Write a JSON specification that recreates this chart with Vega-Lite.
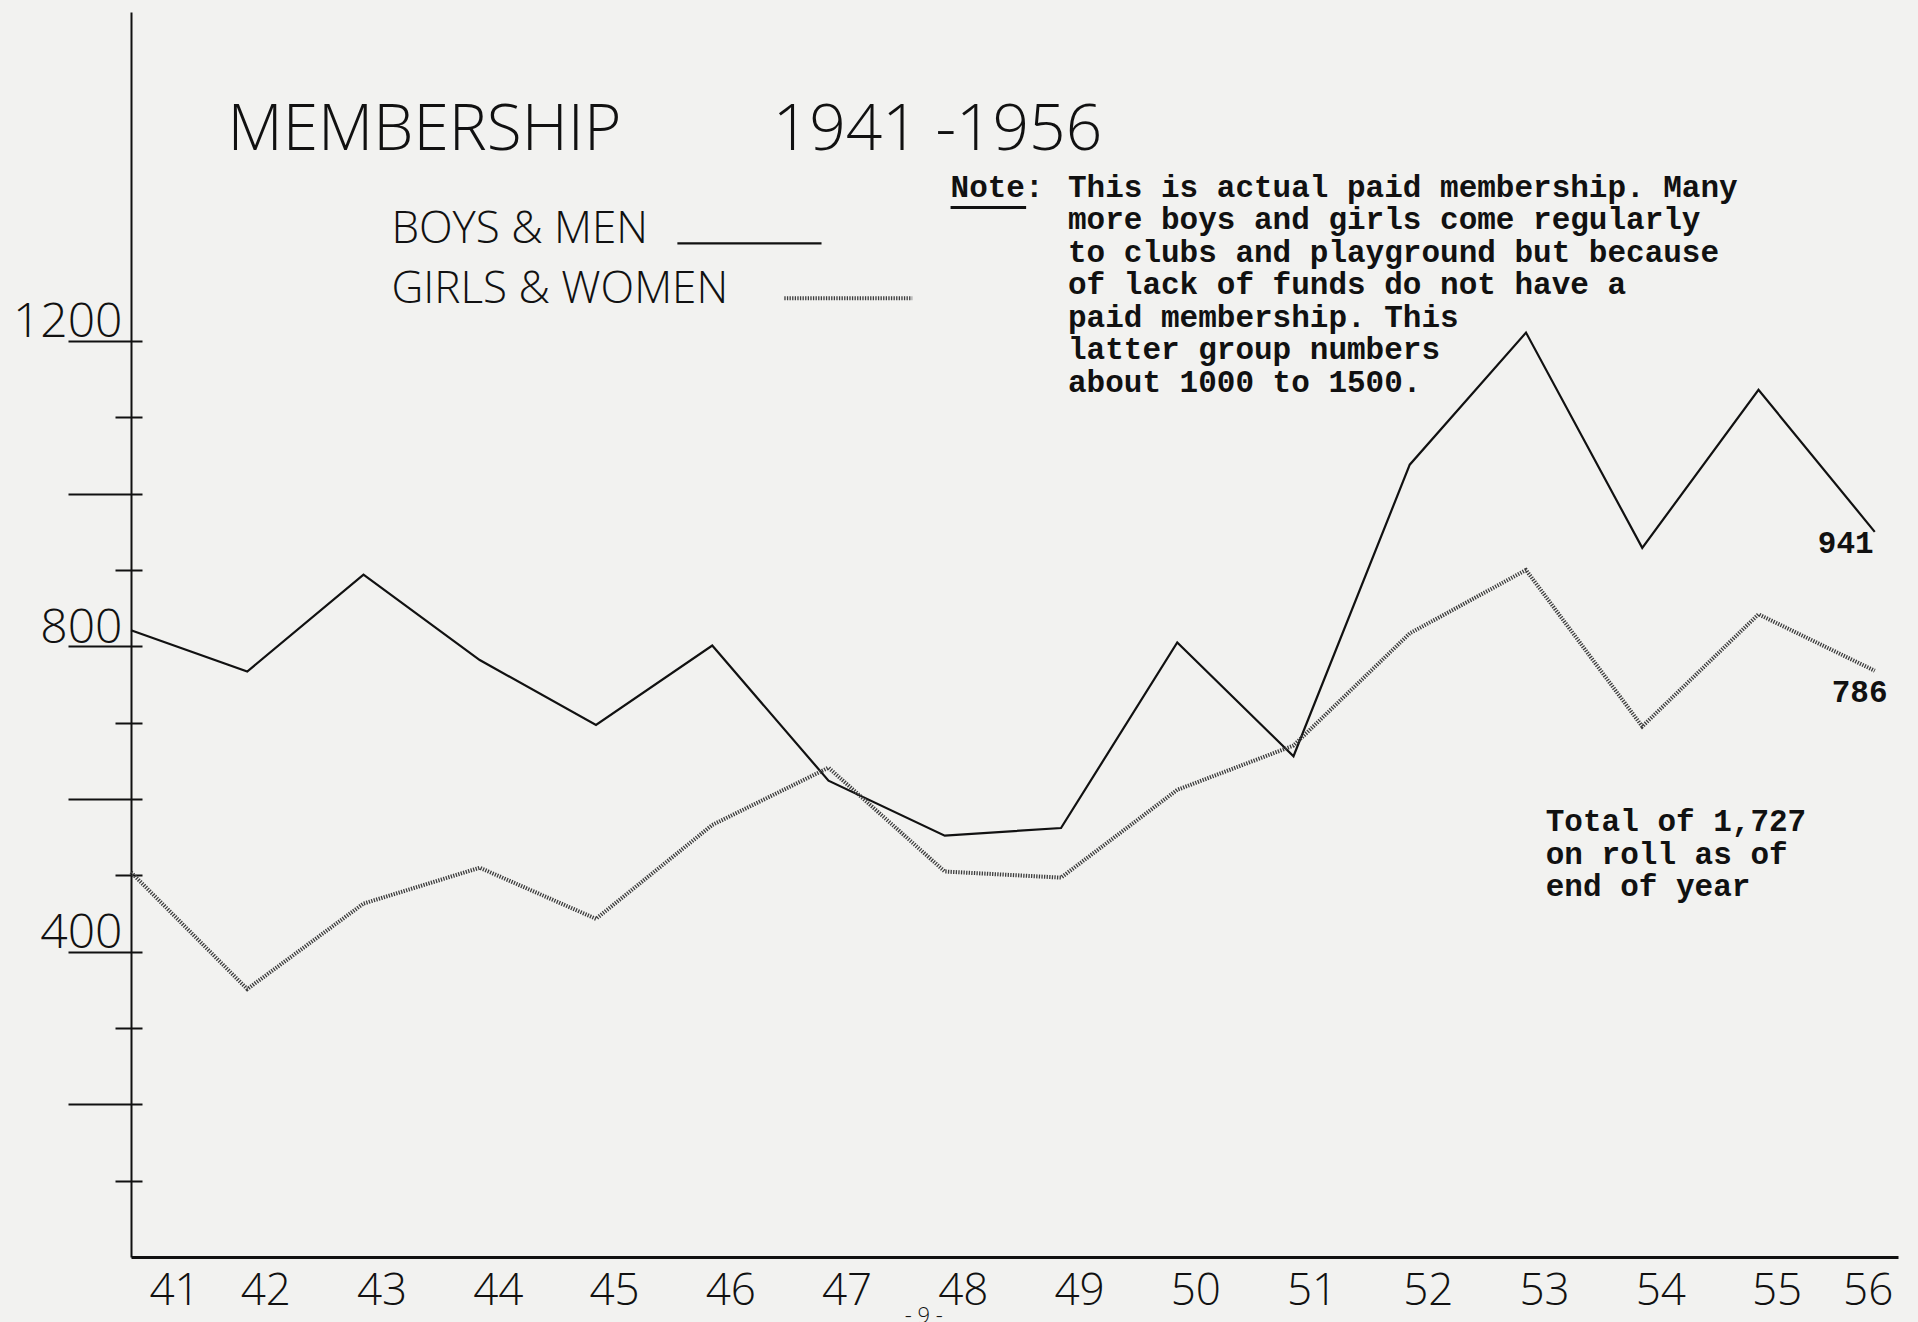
{
  "$schema": "https://vega.github.io/schema/vega-lite/v6.json",
  "width": 1767,
  "height": 1245,
  "autosize": "none",
  "padding": {"left": 131, "top": 12, "right": 20, "bottom": 65},
  "background": "#f2f2f0",
  "config": {"view": {"stroke": null}},
  "datasets": {
    "membership": [
      {"year": 1941, "group": "Boys & Men", "members": 821},
      {"year": 1942, "group": "Boys & Men", "members": 767},
      {"year": 1943, "group": "Boys & Men", "members": 894},
      {"year": 1944, "group": "Boys & Men", "members": 782},
      {"year": 1945, "group": "Boys & Men", "members": 697},
      {"year": 1946, "group": "Boys & Men", "members": 801},
      {"year": 1947, "group": "Boys & Men", "members": 624},
      {"year": 1948, "group": "Boys & Men", "members": 552},
      {"year": 1949, "group": "Boys & Men", "members": 562},
      {"year": 1950, "group": "Boys & Men", "members": 805},
      {"year": 1951, "group": "Boys & Men", "members": 656},
      {"year": 1952, "group": "Boys & Men", "members": 1038},
      {"year": 1953, "group": "Boys & Men", "members": 1211},
      {"year": 1954, "group": "Boys & Men", "members": 929},
      {"year": 1955, "group": "Boys & Men", "members": 1136},
      {"year": 1956, "group": "Boys & Men", "members": 950},
      {"year": 1941, "group": "Girls & Women", "members": 504},
      {"year": 1942, "group": "Girls & Women", "members": 351},
      {"year": 1943, "group": "Girls & Women", "members": 463},
      {"year": 1944, "group": "Girls & Women", "members": 510},
      {"year": 1945, "group": "Girls & Women", "members": 443},
      {"year": 1946, "group": "Girls & Women", "members": 566},
      {"year": 1947, "group": "Girls & Women", "members": 641},
      {"year": 1948, "group": "Girls & Women", "members": 505},
      {"year": 1949, "group": "Girls & Women", "members": 497},
      {"year": 1950, "group": "Girls & Women", "members": 612},
      {"year": 1951, "group": "Girls & Women", "members": 670},
      {"year": 1952, "group": "Girls & Women", "members": 817},
      {"year": 1953, "group": "Girls & Women", "members": 900},
      {"year": 1954, "group": "Girls & Women", "members": 695},
      {"year": 1955, "group": "Girls & Women", "members": 842},
      {"year": 1956, "group": "Girls & Women", "members": 768}
    ],
    "heading": [
      {"label": "MEMBERSHIP", "year": 1941.83, "members": 1450},
      {"label": "1941 -1956", "year": 1946.52, "members": 1450}
    ],
    "legendText": [
      {"label": "BOYS & MEN", "year": 1943.24, "members": 1328},
      {"label": "GIRLS & WOMEN", "year": 1943.24, "members": 1250}
    ],
    "legendSolid": [{"year": 1945.7, "year2": 1946.94, "members": 1328}],
    "legendDotted": [{"year": 1946.62, "year2": 1947.72, "members": 1256}],
    "noteUnderline": [{"year": 1948.05, "year2": 1948.7, "members": 1375}],
    "typed": [
      {"label": ["Note:"], "year": 1948.05, "members": 1389},
      {"label": ["This is actual paid membership. Many", "more boys and girls come regularly", "to clubs and playground but because", "of lack of funds do not have a", "paid membership.  This", "latter group numbers", "about 1000 to 1500."], "year": 1949.06, "members": 1389},
      {"label": ["Total of 1,727", "on roll as of", "end of year"], "year": 1953.17, "members": 558},
      {"label": ["941"], "year": 1955.51, "members": 922},
      {"label": ["786"], "year": 1955.63, "members": 727}
    ],
    "page": [{"label": "- 9 -", "year": 1947.82, "members": -64}]
  },
  "resolve": {"axis": {"y": "independent"}},
  "encoding": {
    "x": {
      "field": "year", "type": "quantitative",
      "scale": {"domain": [1941, 1956.2], "nice": false, "zero": false},
      "axis": {
        "orient": "bottom", "title": null, "grid": false, "ticks": false,
        "values": [1941,1942,1943,1944,1945,1946,1947,1948,1949,1950,1951,1952,1953,1954,1955,1956],
        "labelExpr": "substring(format(datum.value, 'd'), 2)",
        "labelFont": "Open Sans", "labelFontWeight": 300, "labelFontSize": 44,
        "labelColor": "#111111", "labelPadding": 12, "labelOffset": 18,
        "labelAlign": {"condition": [{"test": "datum.value === 1941", "value": "left"}, {"test": "datum.value === 1956", "value": "right"}], "value": "center"},
        "domainColor": "#111111", "domainWidth": 3, "labelFlush": false, "labelOverlap": false
      }
    }
  },
  "layer": [
    {
      "data": {"name": "membership"},
      "transform": [{"filter": "datum.group === 'Boys & Men'"}],
      "mark": {"type": "line", "color": "#111111", "strokeWidth": 2.2},
      "encoding": {
        "y": {
          "field": "members", "type": "quantitative",
          "scale": {"domain": [0, 1631], "nice": false, "zero": true},
          "axis": {
            "orient": "left", "title": null, "grid": false,
            "values": [100,200,300,400,500,600,700,800,900,1000,1100,1200],
            "tickSize": {"condition": {"test": "datum.value % 200 === 0", "value": 63}, "value": 16},
            "tickColor": "#111111", "tickWidth": 2,
            "labelExpr": "datum.value % 400 === 0 ? format(datum.value, 'd') : ''",
            "labelFont": "Open Sans", "labelFontWeight": 300, "labelFontSize": 48,
            "labelColor": "#111111", "labelAlign": "right", "labelBaseline": "alphabetic",
            "labelPadding": -54, "labelOffset": -4, "labelFlush": false, "labelOverlap": false,
            "domainColor": "#111111", "domainWidth": 2
          }
        }
      }
    },
    {
      "data": {"name": "membership"},
      "transform": [{"filter": "datum.group === 'Girls & Women'"}],
      "mark": {"type": "line", "color": "#3c3c3c", "strokeWidth": 4, "strokeDash": [1.3, 1.3]},
      "encoding": {
        "y": {
          "field": "members", "type": "quantitative",
          "scale": {"domain": [0, 1631], "nice": false, "zero": true},
          "axis": {
            "orient": "right", "offset": -1767, "title": null, "grid": false,
            "domain": false, "labels": false,
            "values": [100,200,300,400,500,600,700,800,900,1000,1100,1200],
            "tickSize": 11, "tickColor": "#111111", "tickWidth": 2
          }
        }
      }
    },
    {
      "data": {"name": "heading"},
      "mark": {"type": "text", "font": "Open Sans", "fontWeight": 300, "fontSize": 64, "align": "left", "baseline": "alphabetic", "color": "#111111"},
      "encoding": {
        "y": {"field": "members", "type": "quantitative", "axis": null},
        "text": {"field": "label"}
      }
    },
    {
      "data": {"name": "legendText"},
      "mark": {"type": "text", "font": "Open Sans", "fontWeight": 300, "fontSize": 44, "align": "left", "baseline": "alphabetic", "color": "#111111"},
      "encoding": {
        "y": {"field": "members", "type": "quantitative", "axis": null},
        "text": {"field": "label"}
      }
    },
    {
      "data": {"name": "legendSolid"},
      "mark": {"type": "rule", "color": "#111111", "strokeWidth": 2.2},
      "encoding": {
        "x2": {"field": "year2"},
        "y": {"field": "members", "type": "quantitative", "axis": null}
      }
    },
    {
      "data": {"name": "legendDotted"},
      "mark": {"type": "rule", "color": "#3c3c3c", "strokeWidth": 4, "strokeDash": [1.3, 1.3]},
      "encoding": {
        "x2": {"field": "year2"},
        "y": {"field": "members", "type": "quantitative", "axis": null}
      }
    },
    {
      "data": {"name": "noteUnderline"},
      "mark": {"type": "rule", "color": "#111111", "strokeWidth": 3},
      "encoding": {
        "x2": {"field": "year2"},
        "y": {"field": "members", "type": "quantitative", "axis": null}
      }
    },
    {
      "data": {"name": "typed"},
      "mark": {"type": "text", "font": "Liberation Mono", "fontWeight": "bold", "fontSize": 31, "lineHeight": 32.5, "align": "left", "baseline": "alphabetic", "color": "#111111"},
      "encoding": {
        "y": {"field": "members", "type": "quantitative", "axis": null},
        "text": {"field": "label"}
      }
    },
    {
      "data": {"name": "page"},
      "mark": {"type": "text", "font": "Open Sans", "fontWeight": 300, "fontSize": 22, "align": "center", "baseline": "top", "color": "#111111"},
      "encoding": {
        "y": {"field": "members", "type": "quantitative", "axis": null},
        "text": {"field": "label"}
      }
    }
  ]
}
